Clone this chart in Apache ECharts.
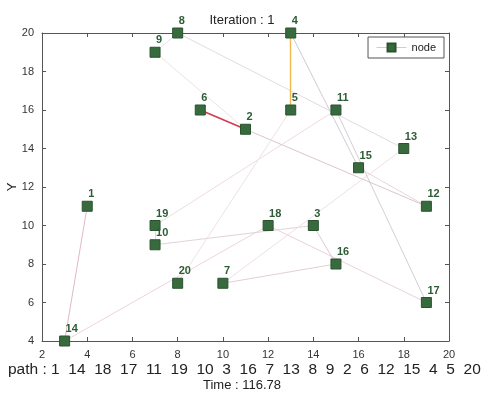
<!DOCTYPE html>
<html><head><meta charset="utf-8">
<script src="https://cdn.jsdelivr.net/npm/echarts@6/dist/echarts.min.js"></script>
<style>html,body{margin:0;padding:0;background:#fff}#c{width:484px;height:395px}</style>
</head><body><div id="c"></div>
<script>
// node ids and coordinates
const nodeIds = [1,2,3,4,5,6,7,8,9,10,11,12,13,14,15,16,17,18,19,20];
const nodeX = [4,11,14,13,13,9,10,8,7,7,15,19,18,3,16,15,19,12,7,8];
const nodeY = [11,15,10,20,16,16,7,20,19,9,16,11,14,4,13,8,6,10,10,7];
// tour order
const path = [1,14,18,17,11,19,10,3,16,7,13,8,9,2,6,12,15,4,5,20];
// colour of each tour edge (path[i] -> path[i+1])
const edgeColors = ['#e2b8c2','#efd3da','#ead2d9','#d4ced6','#efdce2','#e6d6dc','#e2d2da','#dfccd3','#e6cdd4','#f0e0e5','#e3dae2','#e6e0e6','#efe2e6','#d63a4e','#dcc6cd','#e8d6dc','#cfcbd2','#f2b84a','#efe2e6'];
const xTicks = [2,4,6,8,10,12,14,16,18,20];
const yTicks = [4,6,8,10,12,14,16,18,20];
const iteration = 1;
const timeVal = 116.78;

const idx = id => nodeIds.indexOf(id);
const faint = [], strong = [];
for (let i = 0; i < path.length - 1; i++) {
  const a = idx(path[i]), b = idx(path[i+1]);
  const isStrong = edgeColors[i] === '#d63a4e' || edgeColors[i] === '#f2b84a';
  (isStrong ? strong : faint).push({coords: [[nodeX[a], nodeY[a]], [nodeX[b], nodeY[b]]], lineStyle: {color: edgeColors[i], width: isStrong ? 1.4 : 1}});
}
const edges = faint.concat(strong);
const nodes = nodeIds.map((id, i) => ({value: [nodeX[i], nodeY[i]], name: String(id)}));

const axisCommon = {
  type: 'value',
  axisLine: {show: true, lineStyle: {color: '#555', width: 1}},
  axisTick: {show: true, inside: true, length: 4, lineStyle: {color: '#555'}},
  splitLine: {show: false},
  axisLabel: {color: '#333', fontSize: 11, fontFamily: 'Liberation Sans, Arial, sans-serif'}
};
const chart = echarts.init(document.getElementById('c'), null, {renderer: 'canvas'});
chart.setOption({
  animation: false,
  backgroundColor: '#fff',
  title: {text: 'Iteration : ' + iteration, left: 'center', top: 9,
    textStyle: {fontSize: 13, fontWeight: 'normal', color: '#222', fontFamily: 'Liberation Sans, Arial, sans-serif'}},
  graphic: [
    {type: 'text', left: 8, top: 362, style: {text: 'path : ' + path.join('  '), fontSize: 15.5, fill: '#222', fontFamily: 'Liberation Sans, Arial, sans-serif'}},
    {type: 'text', left: 'center', top: 379, style: {text: 'Time : ' + timeVal, fontSize: 13, fill: '#222', fontFamily: 'Liberation Sans, Arial, sans-serif'}}
  ],
  legend: {right: 40, top: 37, orient: 'vertical', padding: [5, 8, 5, 8],
    borderColor: '#555', borderWidth: 1, borderRadius: 0, itemWidth: 30, itemHeight: 10,
    textStyle: {fontSize: 11, color: '#222', fontFamily: 'Liberation Sans, Arial, sans-serif'},
    lineStyle: {color: '#dcc8cf', width: 1, opacity: 1},
    data: ['node']},
  grid: {left: 42, right: 35, top: 33, bottom: 54, outerBoundsMode: 'none', containLabel: false},
  xAxis: [
    Object.assign({}, axisCommon, {min: 2, max: 20, interval: 2, position: 'bottom'}),
    Object.assign({}, axisCommon, {min: 2, max: 20, interval: 2, position: 'top', axisLabel: {show: false}})
  ],
  yAxis: [
    Object.assign({}, axisCommon, {min: 4, max: 20, interval: 2, position: 'left', name: 'Y', nameLocation: 'middle', nameRotate: 90, nameGap: 23, nameMoveOverlap: false,
      nameTextStyle: {fontSize: 13, color: '#222', fontFamily: 'Liberation Sans, Arial, sans-serif'}}),
    Object.assign({}, axisCommon, {min: 4, max: 20, interval: 2, position: 'right', axisLabel: {show: false}})
  ],
  series: [
    {type: 'lines', coordinateSystem: 'cartesian2d', xAxisIndex: 0, yAxisIndex: 0, silent: true,
      lineStyle: {width: 1, opacity: 1}, data: edges, z: 2},
    {type: 'line', name: 'node', xAxisIndex: 0, yAxisIndex: 0, data: nodes, symbol: 'rect', symbolSize: 10, showAllSymbol: true,
      lineStyle: {width: 0, opacity: 0},
      itemStyle: {color: '#376b3e', borderColor: '#2a5230', borderWidth: 1},
      label: {show: true, formatter: p => p.name, position: [6.5, -12], color: '#2c5d34', fontSize: 11, fontWeight: 'bold',
        fontFamily: 'Liberation Sans, Arial, sans-serif'}, z: 3}
  ]
});
</script></body></html>
